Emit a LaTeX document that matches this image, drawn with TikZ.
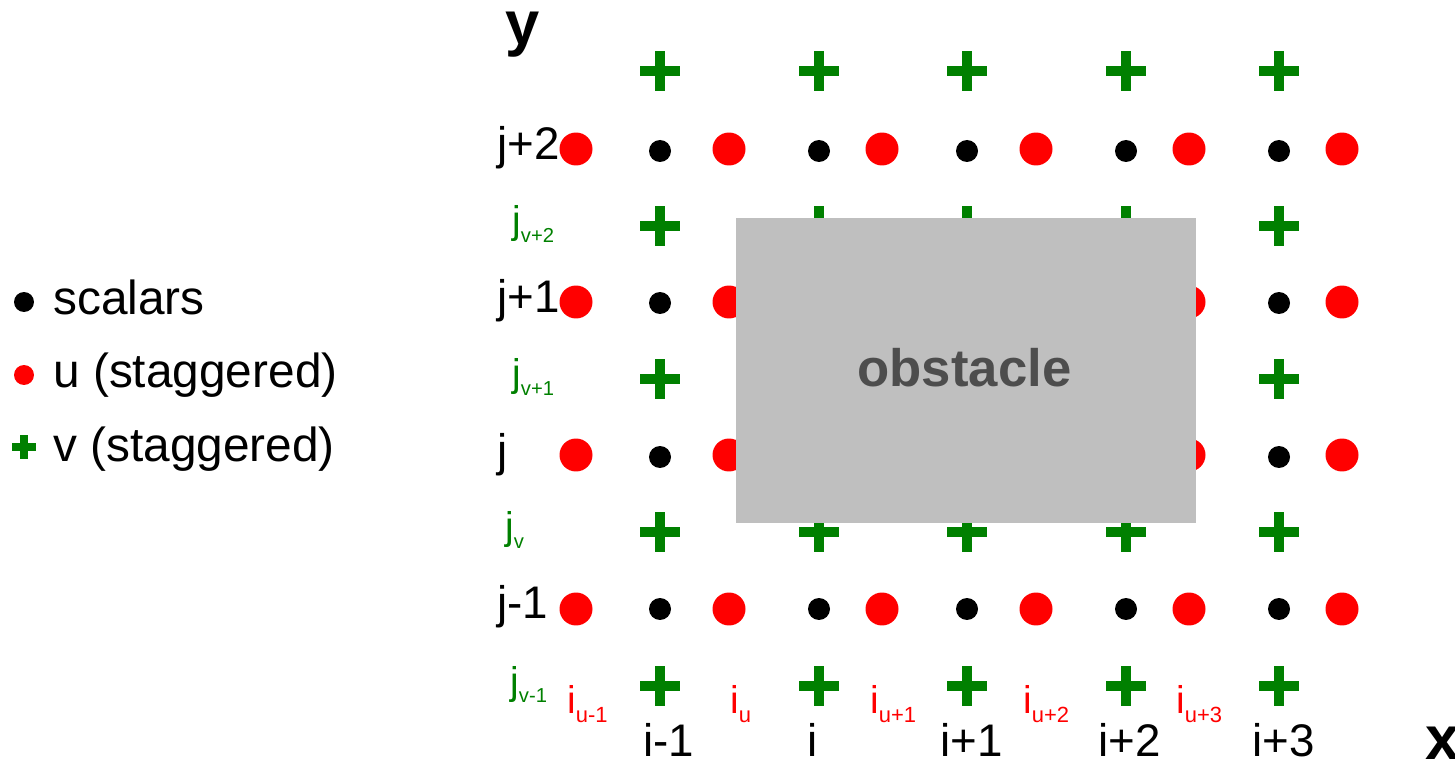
\documentclass[tikz,border=0pt]{standalone}
\usepackage{fontspec}
\setmainfont{Liberation Sans}
\definecolor{vgreen}{HTML}{008000}
\definecolor{ured}{HTML}{FF0000}
\definecolor{obgray}{HTML}{BFBFBF}
\definecolor{obtext}{HTML}{4D4D4D}
\newcommand{\redsub}[1]{\raisebox{-0.2cm}{\fontsize{12.5pt}{14pt}\selectfont #1}}
\newcommand{\greensub}[1]{\raisebox{-0.18cm}{\fontsize{11.5pt}{13pt}\selectfont #1}}
\begin{document}
\begin{tikzpicture}[x=0.02cm,y=-0.02cm,
  scalar/.style={circle, fill=black, inner sep=0, minimum size=0.44cm},
  udot/.style={circle, fill=ured, inner sep=0, minimum size=0.66cm},
  vplus/.style={rectangle, inner sep=0, minimum size=0.8cm,
    path picture={
      \fill[vgreen] ([yshift=-2.6pt]path picture bounding box.west) rectangle ([yshift=2.6pt]path picture bounding box.east);
      \fill[vgreen] ([xshift=-2.6pt]path picture bounding box.south) rectangle ([xshift=2.6pt]path picture bounding box.north);}},
  legplus/.style={rectangle, inner sep=0, minimum size=0.5cm,
    path picture={
      \fill[vgreen] ([yshift=-2.1pt]path picture bounding box.west) rectangle ([yshift=2.1pt]path picture bounding box.east);
      \fill[vgreen] ([xshift=-2.1pt]path picture bounding box.south) rectangle ([xshift=2.1pt]path picture bounding box.north);}},
  blab/.style={inner sep=0, anchor=base west, font=\fontsize{26pt}{30pt}\selectfont},
  leglab/.style={inner sep=0, anchor=base west, font=\fontsize{27.2pt}{31pt}\selectfont},
  rlab/.style={inner sep=0, anchor=base west, text=ured, font=\fontsize{22pt}{26pt}\selectfont},
  glab/.style={inner sep=0, anchor=base west, text=vgreen, font=\fontsize{22pt}{26pt}\selectfont},
  axlab/.style={inner sep=0, anchor=base west, font=\fontsize{35pt}{40pt}\selectfont\bfseries}
]
\useasboundingbox (0,0) rectangle (1455,760);

% v points (green plus)
\foreach \x [count=\i] in {660,819,967,1126,1279}
  \foreach \y [count=\j] in {71,226,379,532,686}
    \node[vplus] (v-\i-\j) at (\x,\y) {};

% scalar points
\foreach \x [count=\i] in {660,819,967,1126,1279}
  \foreach \y [count=\j] in {151,303,457,609}
    \node[scalar] (s-\i-\j) at (\x,\y) {};

% u points
\foreach \x [count=\i] in {576,729,882,1036,1189,1342}
  \foreach \y [count=\j] in {149,302,455,609}
    \node[udot] (u-\i-\j) at (\x,\y) {};

% obstacle
\node[fill=obgray, inner sep=0, minimum width=9.2cm, minimum height=6.1cm] (obst) at (966,370.5) {};
\node[inner sep=0, anchor=base, text=obtext, font=\fontsize{30pt}{34pt}\selectfont\bfseries] (obsttxt) at (964.5,387) {obstacle};

% axis labels
\node[axlab] (ylab) at (505,45) {y};
\node[axlab] (xlab) at (1425,759) {x};

% row labels
\node[blab] (rj2) at (497,160) {j+2};
\node[blab] (rj1) at (497,313) {j+1};
\node[blab] (rj0) at (497,466) {j};
\node[blab] (rjm) at (497,618) {j-1};

% column labels
\node[blab] (ci1) at (643,756) {i-1};
\node[blab] (ci2) at (807,756) {i};
\node[blab] (ci3) at (940,756) {i+1};
\node[blab] (ci4) at (1098,756) {i+2};
\node[blab] (ci5) at (1252,756) {i+3};

% green v labels
\node[glab] (gv2) at (512,234) {j\greensub{v+2}};
\node[glab] (gv1) at (512,387) {j\greensub{v+1}};
\node[glab] (gv0) at (505,540) {j\greensub{v}};
\node[glab] (gvm) at (510,694) {j\greensub{v-1}};

% red u labels
\node[rlab] (ru1) at (567,713) {i\redsub{u-1}};
\node[rlab] (ru2) at (730,713) {i\redsub{u}};
\node[rlab] (ru3) at (870,713) {i\redsub{u+1}};
\node[rlab] (ru4) at (1023,713) {i\redsub{u+2}};
\node[rlab] (ru5) at (1176,713) {i\redsub{u+3}};

% legend
\node[scalar, minimum size=0.4cm] (lgs) at (24,302) {};
\node[circle, fill=ured, inner sep=0, minimum size=0.4cm] (lgu) at (24,375) {};
\node[legplus] (lgv) at (24,447) {};
\node[leglab] (lgst) at (53,315) {scalars};
\node[leglab] (lgut) at (53,388) {u (staggered)};
\node[leglab] (lgvt) at (53,461) {v (staggered)};
\end{tikzpicture}
\end{document}
